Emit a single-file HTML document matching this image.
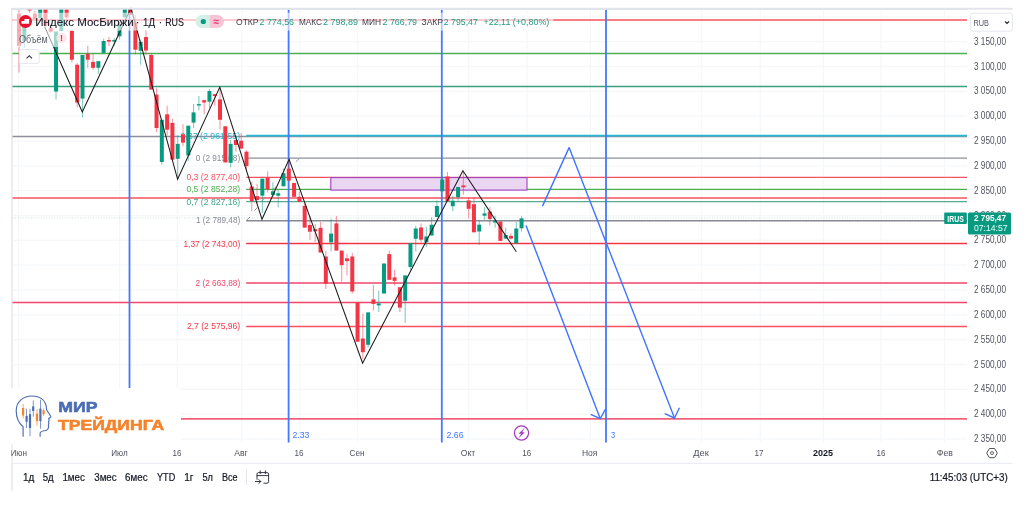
<!DOCTYPE html>
<html lang="ru"><head><meta charset="utf-8"><title>Индекс МосБиржи</title>
<style>
html,body{margin:0;padding:0;background:#fff;}
body{width:1024px;height:508px;overflow:hidden;font-family:"Liberation Sans",sans-serif;}
svg{display:block;filter:blur(0.35px);}
text{font-family:"Liberation Sans",sans-serif;}
</style></head><body>
<svg width="1024" height="508" viewBox="0 0 1024 508">
<rect width="1024" height="508" fill="#ffffff"/>

<rect x="11.5" y="7.8" width="1001" height="1.9" fill="#e0e3eb"/>
<rect x="11.3" y="7.8" width="1.3" height="483" fill="#e0e3eb"/>
<g stroke="#f6f7f9" stroke-width="1.25">
<line x1="18.7" y1="9.7" x2="18.7" y2="442.5"/>
<line x1="119.7" y1="9.7" x2="119.7" y2="442.5"/>
<line x1="177.2" y1="9.7" x2="177.2" y2="442.5"/>
<line x1="241.8" y1="9.7" x2="241.8" y2="442.5"/>
<line x1="299.8" y1="9.7" x2="299.8" y2="442.5"/>
<line x1="357.6" y1="9.7" x2="357.6" y2="442.5"/>
<line x1="468.5" y1="9.7" x2="468.5" y2="442.5"/>
<line x1="526.9" y1="9.7" x2="526.9" y2="442.5"/>
<line x1="590.3" y1="9.7" x2="590.3" y2="442.5"/>
<line x1="701.5" y1="9.7" x2="701.5" y2="442.5"/>
<line x1="760.2" y1="9.7" x2="760.2" y2="442.5"/>
<line x1="823.3" y1="9.7" x2="823.3" y2="442.5"/>
<line x1="881.1" y1="9.7" x2="881.1" y2="442.5"/>
<line x1="944.7" y1="9.7" x2="944.7" y2="442.5"/>
<line x1="12.5" y1="16.8" x2="967" y2="16.8"/>
<line x1="12.5" y1="41.6" x2="967" y2="41.6"/>
<line x1="12.5" y1="66.4" x2="967" y2="66.4"/>
<line x1="12.5" y1="91.3" x2="967" y2="91.3"/>
<line x1="12.5" y1="116.1" x2="967" y2="116.1"/>
<line x1="12.5" y1="141.0" x2="967" y2="141.0"/>
<line x1="12.5" y1="165.8" x2="967" y2="165.8"/>
<line x1="12.5" y1="190.6" x2="967" y2="190.6"/>
<line x1="12.5" y1="215.5" x2="967" y2="215.5"/>
<line x1="12.5" y1="240.3" x2="967" y2="240.3"/>
<line x1="12.5" y1="265.2" x2="967" y2="265.2"/>
<line x1="12.5" y1="290.0" x2="967" y2="290.0"/>
<line x1="12.5" y1="314.8" x2="967" y2="314.8"/>
<line x1="12.5" y1="339.7" x2="967" y2="339.7"/>
<line x1="12.5" y1="364.5" x2="967" y2="364.5"/>
<line x1="12.5" y1="389.4" x2="967" y2="389.4"/>
<line x1="12.5" y1="414.2" x2="967" y2="414.2"/>
<line x1="12.5" y1="439.0" x2="967" y2="439.0"/>
</g>
<rect x="12" y="462.8" width="1000.5" height="1" fill="#e6e9f0"/>
<line x1="12.5" y1="19.9" x2="967" y2="19.9" stroke="#f7525f" stroke-width="1.5"/>
<line x1="12.5" y1="53.4" x2="967" y2="53.4" stroke="#4caf50" stroke-width="1.5"/>
<line x1="12.5" y1="86.5" x2="967" y2="86.5" stroke="#3a9d7c" stroke-width="1.5"/>
<line x1="12.5" y1="136.6" x2="967" y2="136.6" stroke="#8d909b" stroke-width="1.5"/>
<line x1="12.5" y1="198.0" x2="967" y2="198.0" stroke="#f7525f" stroke-width="1.5"/>
<line x1="12.5" y1="302.6" x2="967" y2="302.6" stroke="#f0466a" stroke-width="1.5"/>
<line x1="181" y1="418.9" x2="967" y2="418.9" stroke="#f3607a" stroke-width="1.9"/>
<line x1="12.5" y1="218" x2="967" y2="218" stroke="#089981" stroke-width="0.8" stroke-dasharray="1 1.6" opacity="0.3"/>
<line x1="246.2" y1="135.6" x2="967" y2="135.6" stroke="#29b6d2" stroke-width="1.6"/>
<line x1="246.2" y1="158.1" x2="967" y2="158.1" stroke="#8d909b" stroke-width="1.25"/>
<line x1="246.2" y1="177.4" x2="967" y2="177.4" stroke="#f7525f" stroke-width="1.25"/>
<line x1="246.2" y1="189.3" x2="967" y2="189.3" stroke="#4caf50" stroke-width="1.25"/>
<line x1="246.2" y1="201.6" x2="967" y2="201.6" stroke="#5aa88f" stroke-width="1.25"/>
<line x1="246.2" y1="220.7" x2="967" y2="220.7" stroke="#868993" stroke-width="1.6"/>
<line x1="246.2" y1="243.4" x2="967" y2="243.4" stroke="#f23645" stroke-width="1.5"/>
<line x1="246.2" y1="282.9" x2="967" y2="282.9" stroke="#f0466a" stroke-width="1.5"/>
<line x1="246.2" y1="326.6" x2="967" y2="326.6" stroke="#f7525f" stroke-width="1.5"/>
<text x="240.2" y="138.5" text-anchor="end" font-size="9.8" fill="#29b6d2" textLength="62.7" lengthAdjust="spacingAndGlyphs">-0,37 (2 961,55)</text>
<text x="240.2" y="161.2" text-anchor="end" font-size="9.8" fill="#868993" textLength="44.4" lengthAdjust="spacingAndGlyphs">0 (2 915,08)</text>
<text x="240.2" y="179.9" text-anchor="end" font-size="9.8" fill="#f7525f" textLength="53.8" lengthAdjust="spacingAndGlyphs">0,3 (2 877,40)</text>
<text x="240.2" y="191.8" text-anchor="end" font-size="9.8" fill="#4caf50" textLength="53.8" lengthAdjust="spacingAndGlyphs">0,5 (2 852,28)</text>
<text x="240.2" y="204.8" text-anchor="end" font-size="9.8" fill="#3fa58c" textLength="53.8" lengthAdjust="spacingAndGlyphs">0,7 (2 827,16)</text>
<text x="240.2" y="223.4" text-anchor="end" font-size="9.8" fill="#868993" textLength="44.2" lengthAdjust="spacingAndGlyphs">1 (2 789,48)</text>
<text x="240.2" y="246.6" text-anchor="end" font-size="9.8" fill="#f23645" textLength="56.8" lengthAdjust="spacingAndGlyphs">1,37 (2 743,00)</text>
<text x="240.2" y="285.5" text-anchor="end" font-size="9.8" fill="#f0466a" textLength="44.7" lengthAdjust="spacingAndGlyphs">2 (2 663,88)</text>
<text x="240.2" y="329.2" text-anchor="end" font-size="9.8" fill="#f23645" textLength="53.2" lengthAdjust="spacingAndGlyphs">2,7 (2 575,96)</text>
<g stroke="#868993" stroke-width="0.9" fill="none">
<line x1="295.8" y1="161.8" x2="299" y2="158.7"/>
<line x1="254.6" y1="210.6" x2="257.3" y2="207.5"/>
<line x1="246.4" y1="220.4" x2="250" y2="217"/>
<line x1="261.5" y1="201" x2="265.5" y2="197.5"/>
<line x1="272.5" y1="190" x2="276" y2="186.8"/>
</g>
<rect x="330.8" y="177.6" width="196.2" height="12.5" fill="#ead6f1" stroke="#a043c4" stroke-width="1.1"/>
<line x1="129.5" y1="9.8" x2="129.5" y2="442.5" stroke="#4378ff" stroke-width="1.8"/>
<line x1="288.6" y1="9.8" x2="288.6" y2="442.5" stroke="#4378ff" stroke-width="1.8"/>
<line x1="441.8" y1="9.8" x2="441.8" y2="442.5" stroke="#4378ff" stroke-width="1.8"/>
<line x1="606" y1="9.8" x2="606" y2="442.5" stroke="#4378ff" stroke-width="1.8"/>
<rect x="18.45" y="9.7" width="1.1" height="62.9" fill="#f23645" opacity="0.5"/>
<rect x="17.00" y="13.5" width="4.0" height="32.3" fill="#f23645"/>
<rect x="23.74" y="22.0" width="1.1" height="25.4" fill="#089981" opacity="0.5"/>
<rect x="22.29" y="26.9" width="4.0" height="14.1" fill="#089981"/>
<rect x="29.03" y="8.5" width="1.1" height="4.5" fill="#f23645" opacity="0.5"/>
<rect x="27.58" y="8.5" width="4.0" height="2.0" fill="#f23645"/>
<rect x="34.32" y="11.0" width="1.1" height="12.0" fill="#f23645" opacity="0.5"/>
<rect x="32.87" y="13.5" width="4.0" height="5.5" fill="#f23645"/>
<rect x="39.61" y="8.5" width="1.1" height="9.7" fill="#089981" opacity="0.5"/>
<rect x="38.16" y="8.5" width="4.0" height="9.7" fill="#089981"/>
<rect x="44.90" y="8.5" width="1.1" height="17.5" fill="#f23645" opacity="0.5"/>
<rect x="43.45" y="8.5" width="4.0" height="17.5" fill="#f23645"/>
<rect x="50.19" y="24.0" width="1.1" height="9.0" fill="#f23645" opacity="0.5"/>
<rect x="48.74" y="27.7" width="4.0" height="3.9" fill="#f23645"/>
<rect x="55.48" y="31.6" width="1.1" height="67.8" fill="#089981" opacity="0.5"/>
<rect x="54.03" y="31.6" width="4.0" height="59.9" fill="#089981"/>
<rect x="60.77" y="8.5" width="1.1" height="22.3" fill="#089981" opacity="0.5"/>
<rect x="59.32" y="8.5" width="4.0" height="22.3" fill="#089981"/>
<rect x="66.06" y="8.5" width="1.1" height="10.5" fill="#f23645" opacity="0.5"/>
<rect x="64.61" y="8.5" width="4.0" height="9.0" fill="#f23645"/>
<rect x="71.35" y="29.3" width="1.1" height="33.0" fill="#f23645" opacity="0.5"/>
<rect x="69.90" y="30.8" width="4.0" height="28.9" fill="#f23645"/>
<rect x="76.64" y="63.0" width="1.1" height="44.3" fill="#f23645" opacity="0.5"/>
<rect x="75.19" y="64.7" width="4.0" height="37.8" fill="#f23645"/>
<rect x="81.93" y="55.0" width="1.1" height="62.5" fill="#089981" opacity="0.5"/>
<rect x="80.48" y="55.0" width="4.0" height="43.6" fill="#089981"/>
<rect x="87.22" y="45.8" width="1.1" height="22.0" fill="#f23645" opacity="0.5"/>
<rect x="85.77" y="53.7" width="4.0" height="6.0" fill="#f23645"/>
<rect x="92.51" y="53.7" width="1.1" height="16.0" fill="#f23645" opacity="0.5"/>
<rect x="91.06" y="61.9" width="4.0" height="5.9" fill="#f23645"/>
<rect x="97.80" y="61.2" width="1.1" height="12.8" fill="#089981" opacity="0.5"/>
<rect x="96.35" y="61.2" width="4.0" height="6.6" fill="#089981"/>
<rect x="103.09" y="38.7" width="1.1" height="15.0" fill="#089981" opacity="0.5"/>
<rect x="101.64" y="41.0" width="4.0" height="11.9" fill="#089981"/>
<rect x="108.38" y="37.0" width="1.1" height="9.0" fill="#f23645" opacity="0.5"/>
<rect x="106.93" y="40.0" width="4.0" height="1.6" fill="#f23645"/>
<rect x="113.67" y="38.0" width="1.1" height="7.8" fill="#089981" opacity="0.5"/>
<rect x="112.22" y="40.0" width="4.0" height="1.6" fill="#089981"/>
<rect x="118.96" y="22.0" width="1.1" height="17.5" fill="#089981" opacity="0.5"/>
<rect x="117.51" y="23.7" width="4.0" height="12.6" fill="#089981"/>
<rect x="124.25" y="8.5" width="1.1" height="8.9" fill="#089981" opacity="0.5"/>
<rect x="122.80" y="8.5" width="4.0" height="8.9" fill="#089981"/>
<rect x="129.54" y="8.5" width="1.1" height="6.5" fill="#f23645" opacity="0.5"/>
<rect x="128.09" y="8.5" width="4.0" height="6.5" fill="#f23645"/>
<rect x="134.83" y="15.0" width="1.1" height="39.5" fill="#f23645" opacity="0.5"/>
<rect x="133.38" y="22.0" width="4.0" height="27.7" fill="#f23645"/>
<rect x="140.12" y="39.5" width="1.1" height="25.2" fill="#089981" opacity="0.5"/>
<rect x="138.67" y="41.9" width="4.0" height="8.9" fill="#089981"/>
<rect x="145.41" y="30.0" width="1.1" height="24.5" fill="#f23645" opacity="0.5"/>
<rect x="143.96" y="37.0" width="4.0" height="13.5" fill="#f23645"/>
<rect x="150.70" y="53.0" width="1.1" height="36.6" fill="#f23645" opacity="0.5"/>
<rect x="149.25" y="55.0" width="4.0" height="34.6" fill="#f23645"/>
<rect x="155.99" y="88.3" width="1.1" height="43.9" fill="#f23645" opacity="0.5"/>
<rect x="154.54" y="94.6" width="4.0" height="33.4" fill="#f23645"/>
<rect x="161.28" y="119.8" width="1.1" height="45.0" fill="#089981" opacity="0.5"/>
<rect x="159.83" y="119.8" width="4.0" height="42.2" fill="#089981"/>
<rect x="166.57" y="105.7" width="1.1" height="29.5" fill="#f23645" opacity="0.5"/>
<rect x="165.12" y="114.3" width="4.0" height="15.4" fill="#f23645"/>
<rect x="171.86" y="118.7" width="1.1" height="40.9" fill="#f23645" opacity="0.5"/>
<rect x="170.41" y="122.9" width="4.0" height="36.7" fill="#f23645"/>
<rect x="177.15" y="135.2" width="1.1" height="44.1" fill="#089981" opacity="0.5"/>
<rect x="175.70" y="143.9" width="4.0" height="14.9" fill="#089981"/>
<rect x="182.44" y="124.2" width="1.1" height="22.0" fill="#f23645" opacity="0.5"/>
<rect x="180.99" y="134.4" width="4.0" height="8.2" fill="#f23645"/>
<rect x="187.73" y="125.7" width="1.1" height="35.5" fill="#089981" opacity="0.5"/>
<rect x="186.28" y="125.7" width="4.0" height="29.7" fill="#089981"/>
<rect x="193.02" y="104.0" width="1.1" height="24.0" fill="#089981" opacity="0.5"/>
<rect x="191.57" y="112.4" width="4.0" height="10.2" fill="#089981"/>
<rect x="198.31" y="96.0" width="1.1" height="14.4" fill="#089981" opacity="0.5"/>
<rect x="196.86" y="104.1" width="4.0" height="1.4" fill="#089981"/>
<rect x="203.60" y="100.2" width="1.1" height="14.1" fill="#f23645" opacity="0.5"/>
<rect x="202.15" y="100.2" width="4.0" height="2.3" fill="#f23645"/>
<rect x="208.89" y="89.0" width="1.1" height="19.0" fill="#089981" opacity="0.5"/>
<rect x="207.44" y="91.0" width="4.0" height="10.7" fill="#089981"/>
<rect x="214.18" y="94.2" width="1.1" height="11.5" fill="#f23645" opacity="0.5"/>
<rect x="212.73" y="94.2" width="4.0" height="1.8" fill="#f23645"/>
<rect x="219.47" y="87.6" width="1.1" height="41.9" fill="#f23645" opacity="0.5"/>
<rect x="218.02" y="99.4" width="4.0" height="20.4" fill="#f23645"/>
<rect x="224.76" y="126.3" width="1.1" height="36.1" fill="#f23645" opacity="0.5"/>
<rect x="223.31" y="126.3" width="4.0" height="36.1" fill="#f23645"/>
<rect x="230.05" y="140.0" width="1.1" height="27.5" fill="#089981" opacity="0.5"/>
<rect x="228.60" y="143.9" width="4.0" height="18.9" fill="#089981"/>
<rect x="235.34" y="139.9" width="1.1" height="11.8" fill="#f23645" opacity="0.5"/>
<rect x="233.89" y="139.9" width="4.0" height="5.1" fill="#f23645"/>
<rect x="240.63" y="132.8" width="1.1" height="15.8" fill="#f23645" opacity="0.5"/>
<rect x="239.18" y="140.7" width="4.0" height="7.9" fill="#f23645"/>
<rect x="245.92" y="150.0" width="1.1" height="20.5" fill="#f23645" opacity="0.5"/>
<rect x="244.47" y="151.7" width="4.0" height="14.3" fill="#f23645"/>
<rect x="251.21" y="181.5" width="1.1" height="29.9" fill="#f23645" opacity="0.5"/>
<rect x="249.76" y="186.5" width="4.0" height="14.7" fill="#f23645"/>
<rect x="256.50" y="183.9" width="1.1" height="19.6" fill="#f23645" opacity="0.5"/>
<rect x="255.05" y="196.1" width="4.0" height="3.9" fill="#f23645"/>
<rect x="261.79" y="178.7" width="1.1" height="34.3" fill="#089981" opacity="0.5"/>
<rect x="260.34" y="178.7" width="4.0" height="17.0" fill="#089981"/>
<rect x="267.08" y="171.3" width="1.1" height="21.2" fill="#f23645" opacity="0.5"/>
<rect x="265.63" y="177.6" width="4.0" height="11.8" fill="#f23645"/>
<rect x="272.37" y="182.3" width="1.1" height="14.2" fill="#089981" opacity="0.5"/>
<rect x="270.92" y="191.3" width="4.0" height="3.6" fill="#089981"/>
<rect x="277.66" y="189.4" width="1.1" height="18.1" fill="#089981" opacity="0.5"/>
<rect x="276.21" y="193.3" width="4.0" height="2.4" fill="#089981"/>
<rect x="282.95" y="168.6" width="1.1" height="17.7" fill="#089981" opacity="0.5"/>
<rect x="281.50" y="173.2" width="4.0" height="13.1" fill="#089981"/>
<rect x="288.24" y="159.4" width="1.1" height="21.2" fill="#f23645" opacity="0.5"/>
<rect x="286.79" y="168.6" width="4.0" height="12.0" fill="#f23645"/>
<rect x="293.53" y="183.0" width="1.1" height="13.8" fill="#f23645" opacity="0.5"/>
<rect x="292.08" y="183.0" width="4.0" height="13.8" fill="#f23645"/>
<rect x="298.82" y="191.7" width="1.1" height="10.3" fill="#f23645" opacity="0.5"/>
<rect x="297.37" y="196.8" width="4.0" height="5.2" fill="#f23645"/>
<rect x="304.11" y="203.5" width="1.1" height="24.1" fill="#f23645" opacity="0.5"/>
<rect x="302.66" y="205.9" width="4.0" height="21.7" fill="#f23645"/>
<rect x="309.40" y="216.1" width="1.1" height="23.9" fill="#f23645" opacity="0.5"/>
<rect x="307.95" y="225.0" width="4.0" height="6.7" fill="#f23645"/>
<rect x="314.69" y="224.2" width="1.1" height="18.1" fill="#f23645" opacity="0.5"/>
<rect x="313.24" y="229.2" width="4.0" height="2.1" fill="#f23645"/>
<rect x="319.98" y="222.0" width="1.1" height="30.5" fill="#f23645" opacity="0.5"/>
<rect x="318.53" y="227.8" width="4.0" height="24.7" fill="#f23645"/>
<rect x="325.27" y="251.0" width="1.1" height="38.0" fill="#f23645" opacity="0.5"/>
<rect x="323.82" y="256.5" width="4.0" height="27.2" fill="#f23645"/>
<rect x="330.56" y="218.7" width="1.1" height="32.6" fill="#089981" opacity="0.5"/>
<rect x="329.11" y="233.6" width="4.0" height="8.7" fill="#089981"/>
<rect x="335.85" y="216.0" width="1.1" height="34.6" fill="#f23645" opacity="0.5"/>
<rect x="334.40" y="223.4" width="4.0" height="27.2" fill="#f23645"/>
<rect x="341.14" y="250.6" width="1.1" height="31.1" fill="#f23645" opacity="0.5"/>
<rect x="339.69" y="250.6" width="4.0" height="14.5" fill="#f23645"/>
<rect x="346.43" y="254.0" width="1.1" height="21.4" fill="#f23645" opacity="0.5"/>
<rect x="344.98" y="258.3" width="4.0" height="2.9" fill="#f23645"/>
<rect x="351.72" y="252.8" width="1.1" height="40.7" fill="#f23645" opacity="0.5"/>
<rect x="350.27" y="256.5" width="4.0" height="35.0" fill="#f23645"/>
<rect x="357.01" y="302.6" width="1.1" height="39.1" fill="#f23645" opacity="0.5"/>
<rect x="355.56" y="302.6" width="4.0" height="39.1" fill="#f23645"/>
<rect x="362.30" y="313.6" width="1.1" height="45.7" fill="#f23645" opacity="0.5"/>
<rect x="360.85" y="338.5" width="4.0" height="13.7" fill="#f23645"/>
<rect x="367.59" y="312.4" width="1.1" height="35.1" fill="#089981" opacity="0.5"/>
<rect x="366.14" y="312.4" width="4.0" height="32.4" fill="#089981"/>
<rect x="372.88" y="284.8" width="1.1" height="25.7" fill="#f23645" opacity="0.5"/>
<rect x="371.43" y="299.4" width="4.0" height="4.5" fill="#f23645"/>
<rect x="378.17" y="290.8" width="1.1" height="21.2" fill="#089981" opacity="0.5"/>
<rect x="376.72" y="303.4" width="4.0" height="2.0" fill="#089981"/>
<rect x="383.46" y="263.5" width="1.1" height="30.0" fill="#089981" opacity="0.5"/>
<rect x="382.01" y="263.5" width="4.0" height="30.0" fill="#089981"/>
<rect x="388.75" y="250.6" width="1.1" height="29.2" fill="#f23645" opacity="0.5"/>
<rect x="387.30" y="254.1" width="4.0" height="25.7" fill="#f23645"/>
<rect x="394.04" y="269.8" width="1.1" height="15.8" fill="#f23645" opacity="0.5"/>
<rect x="392.59" y="277.4" width="4.0" height="3.5" fill="#f23645"/>
<rect x="399.33" y="287.2" width="1.1" height="24.8" fill="#f23645" opacity="0.5"/>
<rect x="397.88" y="287.2" width="4.0" height="20.4" fill="#f23645"/>
<rect x="404.62" y="275.4" width="1.1" height="47.4" fill="#089981" opacity="0.5"/>
<rect x="403.17" y="275.4" width="4.0" height="25.3" fill="#089981"/>
<rect x="409.91" y="243.0" width="1.1" height="27.6" fill="#089981" opacity="0.5"/>
<rect x="408.46" y="243.0" width="4.0" height="24.0" fill="#089981"/>
<rect x="415.20" y="225.7" width="1.1" height="25.6" fill="#089981" opacity="0.5"/>
<rect x="413.75" y="228.5" width="4.0" height="10.3" fill="#089981"/>
<rect x="420.49" y="223.5" width="1.1" height="18.7" fill="#f23645" opacity="0.5"/>
<rect x="419.04" y="227.5" width="4.0" height="12.2" fill="#f23645"/>
<rect x="425.78" y="226.7" width="1.1" height="20.4" fill="#089981" opacity="0.5"/>
<rect x="424.33" y="236.5" width="4.0" height="5.7" fill="#089981"/>
<rect x="431.07" y="217.2" width="1.1" height="18.3" fill="#089981" opacity="0.5"/>
<rect x="429.62" y="224.7" width="4.0" height="10.8" fill="#089981"/>
<rect x="436.36" y="200.4" width="1.1" height="16.6" fill="#089981" opacity="0.5"/>
<rect x="434.91" y="206.0" width="4.0" height="11.0" fill="#089981"/>
<rect x="441.65" y="176.0" width="1.1" height="15.3" fill="#089981" opacity="0.5"/>
<rect x="440.20" y="179.6" width="4.0" height="11.7" fill="#089981"/>
<rect x="446.94" y="172.0" width="1.1" height="29.2" fill="#f23645" opacity="0.5"/>
<rect x="445.49" y="176.5" width="4.0" height="24.7" fill="#f23645"/>
<rect x="452.23" y="195.7" width="1.1" height="15.5" fill="#089981" opacity="0.5"/>
<rect x="450.78" y="200.7" width="4.0" height="5.5" fill="#089981"/>
<rect x="457.52" y="187.0" width="1.1" height="14.2" fill="#089981" opacity="0.5"/>
<rect x="456.07" y="187.0" width="4.0" height="10.2" fill="#089981"/>
<rect x="462.81" y="171.3" width="1.1" height="23.6" fill="#f23645" opacity="0.5"/>
<rect x="461.36" y="185.4" width="4.0" height="1.9" fill="#f23645"/>
<rect x="468.10" y="197.2" width="1.1" height="21.3" fill="#f23645" opacity="0.5"/>
<rect x="466.65" y="200.4" width="4.0" height="8.4" fill="#f23645"/>
<rect x="473.39" y="197.2" width="1.1" height="35.1" fill="#f23645" opacity="0.5"/>
<rect x="471.94" y="204.2" width="4.0" height="28.1" fill="#f23645"/>
<rect x="478.68" y="220.1" width="1.1" height="24.8" fill="#089981" opacity="0.5"/>
<rect x="477.23" y="224.7" width="4.0" height="6.8" fill="#089981"/>
<rect x="483.97" y="207.2" width="1.1" height="12.6" fill="#089981" opacity="0.5"/>
<rect x="482.52" y="213.4" width="4.0" height="2.3" fill="#089981"/>
<rect x="489.26" y="207.2" width="1.1" height="18.0" fill="#f23645" opacity="0.5"/>
<rect x="487.81" y="211.6" width="4.0" height="7.5" fill="#f23645"/>
<rect x="494.55" y="215.7" width="1.1" height="11.9" fill="#089981" opacity="0.5"/>
<rect x="493.10" y="220.5" width="4.0" height="2.0" fill="#089981"/>
<rect x="499.84" y="221.5" width="1.1" height="19.4" fill="#f23645" opacity="0.5"/>
<rect x="498.39" y="221.5" width="4.0" height="19.4" fill="#f23645"/>
<rect x="505.13" y="227.6" width="1.1" height="11.0" fill="#089981" opacity="0.5"/>
<rect x="503.68" y="235.0" width="4.0" height="3.6" fill="#089981"/>
<rect x="510.42" y="233.4" width="1.1" height="6.1" fill="#f23645" opacity="0.5"/>
<rect x="508.97" y="235.9" width="4.0" height="2.7" fill="#f23645"/>
<rect x="515.71" y="222.0" width="1.1" height="21.3" fill="#089981" opacity="0.5"/>
<rect x="514.26" y="228.5" width="4.0" height="14.8" fill="#089981"/>
<rect x="521.00" y="216.2" width="1.1" height="15.3" fill="#089981" opacity="0.5"/>
<rect x="519.55" y="218.4" width="4.0" height="9.9" fill="#089981"/>
<polyline fill="none" stroke="#1a1a1a" stroke-width="1.05" stroke-linejoin="miter" points="44.6,26.5 82.3,112 131,8 177.6,179.3 219.8,87.1 262,219.3 289.1,159.4 362.6,363.2 462.9,170.8 516.3,251.7"/>
<g fill="none" stroke="#3f74ff" stroke-width="1.4" stroke-linejoin="round" stroke-linecap="round">
<polyline points="542.7,205.6 569.1,147.6 674.5,418"/>
<polyline points="665.2,413.8 674.5,418 679.2,408.3"/>
<polyline points="526.2,226 600.2,418.6"/>
<polyline points="591.2,414.6 600.2,418.6 605.4,409.4"/>
</g><rect x="0" y="0" width="1024" height="7.8" fill="#fff"/>
<rect x="11.5" y="7.8" width="1001" height="1.9" fill="#e0e3eb"/>
<rect x="12.6" y="12.7" width="540.8" height="17.9" fill="#ffffff" opacity="0.6"/>
<rect x="12.6" y="30.6" width="55" height="16.4" fill="#ffffff" opacity="0.6"/>
<circle cx="25.5" cy="21.5" r="6.5" fill="#e8112d"/>
<path d="M21.5 20.9h2.9v-1.8h4.8v4.7h-7.7z" fill="#fff"/>
<text x="35.3" y="25.8" font-size="11.5" fill="#131722" text-anchor="start" textLength="98.4" lengthAdjust="spacingAndGlyphs" stroke="#131722" stroke-width="0.1">Индекс МосБиржи</text>
<text x="137.6" y="25.8" font-size="11.5" fill="#131722" text-anchor="middle">·</text>
<text x="143.1" y="25.8" font-size="11.5" fill="#131722" text-anchor="start" textLength="12.0" lengthAdjust="spacingAndGlyphs" stroke="#131722" stroke-width="0.1">1Д</text>
<text x="160.5" y="25.8" font-size="11.5" fill="#131722" text-anchor="middle">·</text>
<text x="165.2" y="25.8" font-size="11.5" fill="#131722" text-anchor="start" textLength="18.8" lengthAdjust="spacingAndGlyphs" stroke="#131722" stroke-width="0.1">RUS</text>
<path d="M202 15h7.5v13h-7.5a6.5 6.5 0 0 1 0-13z" fill="#d4efe8"/>
<path d="M209.5 15h8a6.5 6.5 0 0 1 0 13h-8z" fill="#f9c4d6"/>
<circle cx="203.3" cy="21.5" r="2.6" fill="#089981"/>
<text x="216.2" y="25.3" font-size="10" fill="#e91e63" text-anchor="middle" font-weight="bold">≈</text>
<text x="236" y="25.1" font-size="9.4" fill="#3c3f4a" text-anchor="start" textLength="22.5" lengthAdjust="spacingAndGlyphs">ОТКР</text>
<text x="259.5" y="25.1" font-size="9.8" fill="#1f9c85" text-anchor="start" textLength="34.5" lengthAdjust="spacingAndGlyphs">2 774,56</text>
<text x="299" y="25.1" font-size="9.4" fill="#3c3f4a" text-anchor="start" textLength="23.0" lengthAdjust="spacingAndGlyphs">МАКС</text>
<text x="323" y="25.1" font-size="9.8" fill="#1f9c85" text-anchor="start" textLength="35.0" lengthAdjust="spacingAndGlyphs">2 798,89</text>
<text x="362" y="25.1" font-size="9.4" fill="#3c3f4a" text-anchor="start" textLength="19.0" lengthAdjust="spacingAndGlyphs">МИН</text>
<text x="382.5" y="25.1" font-size="9.8" fill="#1f9c85" text-anchor="start" textLength="34.5" lengthAdjust="spacingAndGlyphs">2 766,79</text>
<text x="421.5" y="25.1" font-size="9.4" fill="#3c3f4a" text-anchor="start" textLength="21.5" lengthAdjust="spacingAndGlyphs">ЗАКР</text>
<text x="443.8" y="25.1" font-size="9.8" fill="#1f9c85" text-anchor="start" textLength="34.0" lengthAdjust="spacingAndGlyphs">2 795,47</text>
<text x="483.5" y="25.1" font-size="9.8" fill="#1f9c85" text-anchor="start" textLength="65.8" lengthAdjust="spacingAndGlyphs">+22,11 (+0,80%)</text>
<text x="19.1" y="42.8" font-size="10" fill="#5d606b" text-anchor="start" textLength="28.6" lengthAdjust="spacingAndGlyphs">Объём</text>
<circle cx="61.5" cy="38" r="5.2" fill="#fde3e7" opacity="0.9"/>
<text x="61.5" y="41.3" font-size="9" fill="#f23645" text-anchor="middle" font-weight="bold">!</text>
<rect x="19.3" y="49.6" width="19.9" height="13.8" rx="2" fill="#fff" stroke="#e0e3eb" stroke-width="0.9"/>
<path d="M26.6 58.4l2.7-2.7 2.7 2.7" fill="none" stroke="#2a2e39" stroke-width="1.1"/>
<rect x="967.6" y="9.7" width="46" height="433" fill="#fff"/>
<text x="974" y="44.7" font-size="10.1" fill="#50535e" text-anchor="start" textLength="32.0" lengthAdjust="spacingAndGlyphs">3 150,00</text>
<text x="974" y="69.5" font-size="10.1" fill="#50535e" text-anchor="start" textLength="32.0" lengthAdjust="spacingAndGlyphs">3 100,00</text>
<text x="974" y="94.4" font-size="10.1" fill="#50535e" text-anchor="start" textLength="32.0" lengthAdjust="spacingAndGlyphs">3 050,00</text>
<text x="974" y="119.2" font-size="10.1" fill="#50535e" text-anchor="start" textLength="32.0" lengthAdjust="spacingAndGlyphs">3 000,00</text>
<text x="974" y="144.0" font-size="10.1" fill="#50535e" text-anchor="start" textLength="32.0" lengthAdjust="spacingAndGlyphs">2 950,00</text>
<text x="974" y="168.8" font-size="10.1" fill="#50535e" text-anchor="start" textLength="32.0" lengthAdjust="spacingAndGlyphs">2 900,00</text>
<text x="974" y="193.7" font-size="10.1" fill="#50535e" text-anchor="start" textLength="32.0" lengthAdjust="spacingAndGlyphs">2 850,00</text>
<text x="974" y="218.5" font-size="10.1" fill="#50535e" text-anchor="start" textLength="32.0" lengthAdjust="spacingAndGlyphs">2 800,00</text>
<text x="974" y="243.3" font-size="10.1" fill="#50535e" text-anchor="start" textLength="32.0" lengthAdjust="spacingAndGlyphs">2 750,00</text>
<text x="974" y="268.2" font-size="10.1" fill="#50535e" text-anchor="start" textLength="32.0" lengthAdjust="spacingAndGlyphs">2 700,00</text>
<text x="974" y="293.0" font-size="10.1" fill="#50535e" text-anchor="start" textLength="32.0" lengthAdjust="spacingAndGlyphs">2 650,00</text>
<text x="974" y="317.8" font-size="10.1" fill="#50535e" text-anchor="start" textLength="32.0" lengthAdjust="spacingAndGlyphs">2 600,00</text>
<text x="974" y="342.7" font-size="10.1" fill="#50535e" text-anchor="start" textLength="32.0" lengthAdjust="spacingAndGlyphs">2 550,00</text>
<text x="974" y="367.5" font-size="10.1" fill="#50535e" text-anchor="start" textLength="32.0" lengthAdjust="spacingAndGlyphs">2 500,00</text>
<text x="974" y="392.3" font-size="10.1" fill="#50535e" text-anchor="start" textLength="32.0" lengthAdjust="spacingAndGlyphs">2 450,00</text>
<text x="974" y="417.1" font-size="10.1" fill="#50535e" text-anchor="start" textLength="32.0" lengthAdjust="spacingAndGlyphs">2 400,00</text>
<text x="974" y="442.0" font-size="10.1" fill="#50535e" text-anchor="start" textLength="32.0" lengthAdjust="spacingAndGlyphs">2 350,00</text>
<rect x="970.4" y="13.2" width="42" height="18" rx="2.5" fill="#fff" stroke="#e4e7ef" stroke-width="1"/>
<text x="973.4" y="25.8" font-size="9.3" fill="#50535e" text-anchor="start" textLength="15.5" lengthAdjust="spacingAndGlyphs">RUB</text>
<path d="M1005 21.5l2 2 2-2" fill="none" stroke="#2a2e39" stroke-width="1.2"/>
<rect x="944.2" y="212.6" width="22.6" height="11.3" rx="1" fill="#089981"/>
<text x="947.3" y="221.6" font-size="8.6" fill="#ffffff" text-anchor="start" font-weight="bold" textLength="16.6" lengthAdjust="spacingAndGlyphs">IRUS</text>
<rect x="968" y="212.5" width="43" height="22" rx="1.5" fill="#089981"/>
<text x="974" y="221.2" font-size="9.3" fill="#ffffff" text-anchor="start" font-weight="bold" textLength="32.0" lengthAdjust="spacingAndGlyphs">2 795,47</text>
<text x="974" y="231.4" font-size="9.3" fill="#e6fffa" text-anchor="start" textLength="33.5" lengthAdjust="spacingAndGlyphs">07:14:57</text>
<text x="292.4" y="438.2" font-size="8.8" fill="#3f74ff" text-anchor="start" textLength="17.0" lengthAdjust="spacingAndGlyphs">2.33</text>
<text x="446.5" y="438.2" font-size="8.8" fill="#3f74ff" text-anchor="start" textLength="17.0" lengthAdjust="spacingAndGlyphs">2.66</text>
<text x="610.9" y="438.2" font-size="8.8" fill="#3f74ff" text-anchor="start" textLength="4.2" lengthAdjust="spacingAndGlyphs">3</text>
<circle cx="521.5" cy="433" r="7.1" fill="#fff" stroke="#a23bbb" stroke-width="1.2"/>
<path d="M524.1 428.7l-5.2 4.9h2.7l-2.5 3.9 5.300-5h-2.7z" fill="#9c27b0" stroke="#9c27b0" stroke-width="0.3"/>
<text x="18.7" y="456.2" font-size="9.4" fill="#50535e" text-anchor="middle" textLength="16.5" lengthAdjust="spacingAndGlyphs">Июн</text>
<text x="119.5" y="456.2" font-size="9.4" fill="#50535e" text-anchor="middle" textLength="16.5" lengthAdjust="spacingAndGlyphs">Июл</text>
<text x="177" y="456.2" font-size="9.4" fill="#50535e" text-anchor="middle" textLength="9.0" lengthAdjust="spacingAndGlyphs">16</text>
<text x="241" y="456.2" font-size="9.4" fill="#50535e" text-anchor="middle" textLength="13.5" lengthAdjust="spacingAndGlyphs">Авг</text>
<text x="299" y="456.2" font-size="9.4" fill="#50535e" text-anchor="middle" textLength="9.0" lengthAdjust="spacingAndGlyphs">16</text>
<text x="357" y="456.2" font-size="9.4" fill="#50535e" text-anchor="middle" textLength="15.0" lengthAdjust="spacingAndGlyphs">Сен</text>
<text x="468" y="456.2" font-size="9.4" fill="#50535e" text-anchor="middle" textLength="14.5" lengthAdjust="spacingAndGlyphs">Окт</text>
<text x="526.7" y="456.2" font-size="9.4" fill="#50535e" text-anchor="middle" textLength="9.0" lengthAdjust="spacingAndGlyphs">16</text>
<text x="589.7" y="456.2" font-size="9.4" fill="#50535e" text-anchor="middle" textLength="15.5" lengthAdjust="spacingAndGlyphs">Ноя</text>
<text x="701" y="456.2" font-size="9.4" fill="#50535e" text-anchor="middle" textLength="15.5" lengthAdjust="spacingAndGlyphs">Дек</text>
<text x="759" y="456.2" font-size="9.4" fill="#50535e" text-anchor="middle" textLength="9.0" lengthAdjust="spacingAndGlyphs">17</text>
<text x="881" y="456.2" font-size="9.4" fill="#50535e" text-anchor="middle" textLength="9.0" lengthAdjust="spacingAndGlyphs">16</text>
<text x="944.8" y="456.2" font-size="9.4" fill="#50535e" text-anchor="middle" textLength="16.0" lengthAdjust="spacingAndGlyphs">Фев</text>
<text x="823" y="456.3" font-size="9" fill="#131722" text-anchor="middle" font-weight="bold" textLength="20.0" lengthAdjust="spacingAndGlyphs">2025</text>
<path d="M986.7 453.1l2.65-4.6h5.3l2.65 4.6-2.65 4.6h-5.3z" fill="none" stroke="#50535e" stroke-width="1"/>
<circle cx="992" cy="453.1" r="1.5" fill="none" stroke="#50535e" stroke-width="0.9"/>
<rect x="0" y="444" width="11.3" height="20" fill="#fff"/>
<text x="23" y="480.9" font-size="10.7" fill="#131722" text-anchor="start" textLength="11.3" lengthAdjust="spacingAndGlyphs" stroke="#131722" stroke-width="0.2">1д</text>
<text x="42.7" y="480.9" font-size="10.7" fill="#131722" text-anchor="start" textLength="11.0" lengthAdjust="spacingAndGlyphs" stroke="#131722" stroke-width="0.2">5д</text>
<text x="62.4" y="480.9" font-size="10.7" fill="#131722" text-anchor="start" textLength="22.6" lengthAdjust="spacingAndGlyphs" stroke="#131722" stroke-width="0.2">1мес</text>
<text x="94.2" y="480.9" font-size="10.7" fill="#131722" text-anchor="start" textLength="22.5" lengthAdjust="spacingAndGlyphs" stroke="#131722" stroke-width="0.2">3мес</text>
<text x="125.1" y="480.9" font-size="10.7" fill="#131722" text-anchor="start" textLength="22.5" lengthAdjust="spacingAndGlyphs" stroke="#131722" stroke-width="0.2">6мес</text>
<text x="157" y="480.9" font-size="10.7" fill="#131722" text-anchor="start" textLength="18.2" lengthAdjust="spacingAndGlyphs" stroke="#131722" stroke-width="0.2">YTD</text>
<text x="184.2" y="480.9" font-size="10.7" fill="#131722" text-anchor="start" textLength="9.3" lengthAdjust="spacingAndGlyphs" stroke="#131722" stroke-width="0.2">1г</text>
<text x="202.5" y="480.9" font-size="10.7" fill="#131722" text-anchor="start" textLength="10.5" lengthAdjust="spacingAndGlyphs" stroke="#131722" stroke-width="0.2">5л</text>
<text x="222" y="480.9" font-size="10.7" fill="#131722" text-anchor="start" textLength="15.6" lengthAdjust="spacingAndGlyphs" stroke="#131722" stroke-width="0.2">Все</text>
<rect x="246" y="469.5" width="0.9" height="15.5" fill="#e0e3eb"/>
<g fill="none" stroke="#2a2e39" stroke-width="0.95" stroke-linecap="round" stroke-linejoin="round"><path d="M257 479.3v-5.2a1.5 1.5 0 0 1 1.5-1.5h8.6a1.5 1.5 0 0 1 1.5 1.5v7.6a1.5 1.5 0 0 1-1.5 1.5h-3.3"/><path d="M257 475.6h11.6M260.2 470.8v2.8M265.4 470.8v2.8"/><path d="M255.4 481.5h5.4M258.8 479.5l2 2-2 2"/></g>
<text x="929.7" y="480.8" font-size="10.7" fill="#131722" text-anchor="start" textLength="78.0" lengthAdjust="spacingAndGlyphs" stroke="#131722" stroke-width="0.2">11:45:03 (UTC+3)</text>
<rect x="9" y="388" width="172" height="56.3" fill="#fff"/>
<g fill="none" stroke="#4a6db5" stroke-width="1.15" stroke-linecap="round" stroke-linejoin="round"><path d="M23.1 436.3V426.8C19 423.5 16.2 417 16.2 410.5C16.2 401.5 23.5 396 32 396C39 396 44 399.5 45.6 404C46.3 406 46.5 408 46.6 409.8L50.7 416.2C51.1 417 50.7 417.7 49.8 417.9L48.7 418.3L49.2 420.6L48.4 421.8L48.9 423.4L48.4 424.4C48.8 426.8 48.6 429.3 46.4 430.2C44.3 431 40.1 430.6 40.1 433.4V436.3"/></g>
<rect x="22.75" y="404" width="0.7" height="14.6" fill="#f6822a"/>
<rect x="22.00" y="408" width="2.2" height="7.5" fill="#f6822a"/>
<rect x="26.25" y="408.6" width="0.7" height="19.4" fill="#4a6db5"/>
<rect x="25.50" y="416" width="2.2" height="5.8" fill="#4a6db5"/>
<rect x="29.65" y="408.6" width="0.7" height="27.7" fill="#4a6db5"/>
<rect x="28.90" y="414.2" width="2.2" height="13.8" fill="#4a6db5"/>
<rect x="32.85" y="400.4" width="0.7" height="16.3" fill="#4a6db5"/>
<rect x="32.10" y="406.4" width="2.2" height="4.6" fill="#4a6db5"/>
<rect x="36.65" y="409.2" width="0.7" height="16.4" fill="#f6822a"/>
<rect x="35.90" y="413.6" width="2.2" height="7.6" fill="#f6822a"/>
<rect x="40.05" y="399.7" width="0.7" height="29.0" fill="#4a6db5"/>
<rect x="39.30" y="408.6" width="2.2" height="12.6" fill="#4a6db5"/>
<rect x="43.25" y="408.6" width="0.7" height="7.5" fill="#f6822a"/>
<rect x="42.50" y="410.4" width="2.2" height="3.8" fill="#f6822a"/>
<text x="58.3" y="411.8" font-size="14.4" fill="#4a6db5" text-anchor="start" font-weight="bold" textLength="39.2" lengthAdjust="spacingAndGlyphs" stroke="#4a6db5" stroke-width="0.55">МИР</text>
<text x="58" y="429.5" font-size="14.4" fill="#f6822a" text-anchor="start" font-weight="bold" textLength="106.2" lengthAdjust="spacingAndGlyphs" stroke="#f6822a" stroke-width="0.55">ТРЕЙДИНГА</text>
</svg></body></html>
